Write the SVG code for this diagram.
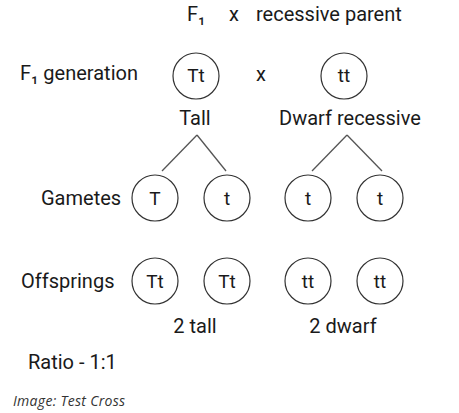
<svg xmlns="http://www.w3.org/2000/svg" width="459" height="413" viewBox="0 0 459 413">
<style>
text{font-family:Roboto,"Liberation Sans",sans-serif;font-size:20px;fill:#1a1a1a}
.c{text-anchor:middle}
.n circle{fill:#fff;stroke:#333;stroke-width:1.2}
.n text{text-anchor:middle;font-size:19px}
#connectors line{stroke:#555;stroke-width:1.3}
.cap{font-family:"Open Sans","Liberation Sans",sans-serif;font-style:italic;font-size:14px;letter-spacing:0.3px;fill:#333}
</style>
<rect width="459" height="413" fill="#fff"/>
<text x="187" y="21">F₁</text>
<text x="229" y="21">x</text>
<text x="256" y="21">recessive parent</text>
<text x="20" y="80">F₁ generation</text>
<text x="256" y="81">x</text>
<g id="parent-Tt" class="n"><circle cx="196" cy="76" r="23"/><text x="196" y="82">Tt</text></g>
<g id="parent-tt" class="n"><circle cx="344" cy="76" r="23"/><text x="344" y="82">tt</text></g>
<text class="c" x="195" y="125">Tall</text>
<text class="c" x="350" y="125">Dwarf recessive</text>
<g id="connectors">
<line x1="197" y1="135" x2="162" y2="171"/>
<line x1="197" y1="135" x2="226" y2="171"/>
<line x1="347" y1="135" x2="312" y2="171"/>
<line x1="347" y1="135" x2="382" y2="171"/>
</g>
<text x="41" y="205">Gametes</text>
<g id="gamete-T" class="n"><circle cx="155" cy="198" r="23"/><text x="155" y="205">T</text></g>
<g id="gamete-t1" class="n"><circle cx="227" cy="198" r="23"/><text x="227" y="205">t</text></g>
<g id="gamete-t2" class="n"><circle cx="308" cy="198" r="23"/><text x="308" y="205">t</text></g>
<g id="gamete-t3" class="n"><circle cx="380" cy="198" r="23"/><text x="380" y="205">t</text></g>
<text x="21" y="288">Offsprings</text>
<g id="off-Tt1" class="n"><circle cx="155" cy="281" r="23"/><text x="155" y="288">Tt</text></g>
<g id="off-Tt2" class="n"><circle cx="227" cy="281" r="23"/><text x="227" y="288">Tt</text></g>
<g id="off-tt1" class="n"><circle cx="308" cy="281" r="23"/><text x="308" y="288">tt</text></g>
<g id="off-tt2" class="n"><circle cx="380" cy="281" r="23"/><text x="380" y="288">tt</text></g>
<text class="c" x="195" y="333">2 tall</text>
<text class="c" x="343" y="333">2 dwarf</text>
<text x="28" y="369">Ratio - 1:1</text>
<text class="cap" x="13" y="406">Image: Test Cross</text>
</svg>
